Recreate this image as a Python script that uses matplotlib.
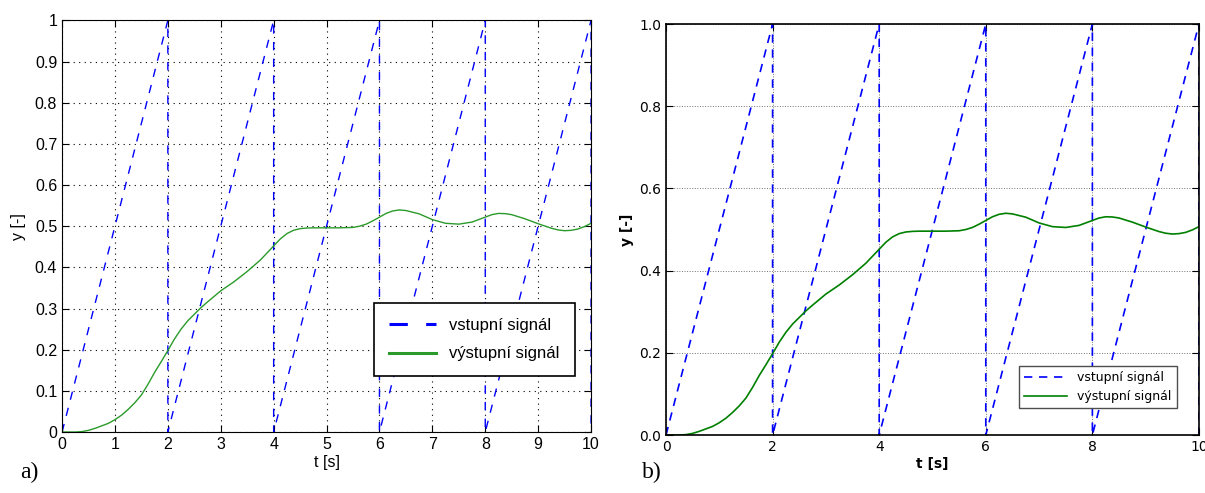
import matplotlib
matplotlib.use("Agg")
from matplotlib import pyplot as plt
from matplotlib.ticker import FormatStrFormatter

# vstupni signal (pila s periodou 2 s)
t_vstup = [0, 2, 2, 4, 4, 6, 6, 8, 8, 10, 10]
y_vstup = [0, 1, 0, 1, 0, 1, 0, 1, 0, 1, 0]

# vystupni signal
t_vystup = [0, 0.25, 0.375, 0.5, 0.625, 0.75, 0.875, 1.0, 1.125, 1.25, 1.375,
            1.5, 1.625, 1.75, 1.875, 2.0, 2.125, 2.25, 2.375, 2.5, 2.625, 2.75,
            3.0, 3.25, 3.5, 3.75, 4.0, 4.125, 4.25, 4.375, 4.5, 4.625, 4.75,
            5.0, 5.25, 5.5, 5.625, 5.75, 5.875, 6.0, 6.125, 6.25, 6.375, 6.5,
            6.75, 7.0, 7.25, 7.5, 7.75, 8.0, 8.125, 8.25, 8.375, 8.5, 8.75,
            9.0, 9.25, 9.375, 9.5, 9.625, 9.75, 9.875, 10.0]
y_vystup = [0, 0.0, 0.001, 0.004, 0.009, 0.015, 0.021, 0.03, 0.041, 0.055, 0.071,
            0.09, 0.116, 0.145, 0.171, 0.198, 0.226, 0.25, 0.27, 0.286, 0.302, 0.316,
            0.343, 0.365, 0.39, 0.418, 0.452, 0.469, 0.482, 0.49, 0.494, 0.4955, 0.496,
            0.496, 0.496, 0.497, 0.5, 0.505, 0.513, 0.522, 0.531, 0.537, 0.5395, 0.538,
            0.53, 0.516, 0.507, 0.505, 0.51, 0.522, 0.528, 0.531, 0.5305, 0.528, 0.518,
            0.506, 0.495, 0.491, 0.489, 0.49, 0.493, 0.499, 0.507]

legenda = ["vstupní signál", "výstupní signál"]
xticks_a = list(range(0, 11))
yticks_a = [0, 0.1, 0.2, 0.3, 0.4, 0.5, 0.6, 0.7, 0.8, 0.9, 1]
xticks_b = [0, 2, 4, 6, 8, 10]
yticks_b = [0.0, 0.2, 0.4, 0.6, 0.8, 1.0]

fig = plt.figure(figsize=(12.05, 4.93), dpi=100)

############
# GRAF a) #
############
ax1 = fig.add_axes([0.0515, 0.1237, 0.439, 0.835])
ax1.plot(t_vstup, y_vstup, color="blue", ls="--", lw=1, dashes=(6, 6))
ax1.plot(t_vystup, y_vystup, color="#2a9a2a", lw=1)
ax1.set_xlim(0, 10)
ax1.set_ylim(0, 1)
ax1.set_xticks(xticks_a)
ax1.set_yticks(yticks_a)
ax1.yaxis.set_major_formatter(FormatStrFormatter("%g"))
ax1.grid(True, color="black", ls=(0, (1, 4)), lw=0.8)
ax1.tick_params(direction="in", top=True, right=True, labelsize=11.5, length=5)
for lab in ax1.get_xticklabels() + ax1.get_yticklabels():
    lab.set_family("Liberation Sans")
ax1.set_xlabel("t [s]", family="Liberation Sans", fontsize=11.5, labelpad=2)
ax1.set_ylabel("y [-]", family="Liberation Sans", fontsize=11.5, labelpad=6)
leg1 = ax1.legend(legenda, loc="lower right", bbox_to_anchor=(0.985, 0.115),
                  fancybox=False, edgecolor="black", framealpha=1,
                  prop={"family": "Liberation Sans", "size": 12},
                  handlelength=2.8, borderpad=0.9, labelspacing=0.8)
leg1.get_frame().set_linewidth(1.2)
for line in leg1.get_lines():
    line.set_linewidth(2.2)

############
# GRAF b) #
############
ax2 = fig.add_axes([0.5527, 0.1176, 0.4423, 0.8337])
ax2.plot(t_vstup, y_vstup, color="blue", ls="--", lw=1.2, dashes=(5, 4))
ax2.plot(t_vystup, y_vystup, color="#008000", lw=1.2)
ax2.set_xlim(0, 10)
ax2.set_ylim(0, 1)
ax2.set_xticks(xticks_b)
ax2.set_yticks(yticks_b)
ax2.yaxis.set_major_formatter(FormatStrFormatter("%.1f"))
ax2.grid(True, color="0.45", ls=":", lw=0.7)
ax2.tick_params(direction="in", top=True, right=True, labelsize=10, length=5)
for s in ax2.spines.values():
    s.set_linewidth(1.2)
ax2.set_xlabel("t [s]", fontsize=10, fontweight="bold", labelpad=2)
ax2.set_ylabel("y [-]", fontsize=10, fontweight="bold", labelpad=4)
leg2 = ax2.legend(legenda, loc="lower right", bbox_to_anchor=(0.97, 0.05),
                  fancybox=False, edgecolor="0.3", framealpha=1,
                  prop={"size": 9}, handlelength=3.5)

fig.text(0.017, 0.03, "a)", family="Liberation Serif", fontsize=17)
fig.text(0.533, 0.03, "b)", family="Liberation Serif", fontsize=17)

plt.savefig("out.png", dpi=100)
